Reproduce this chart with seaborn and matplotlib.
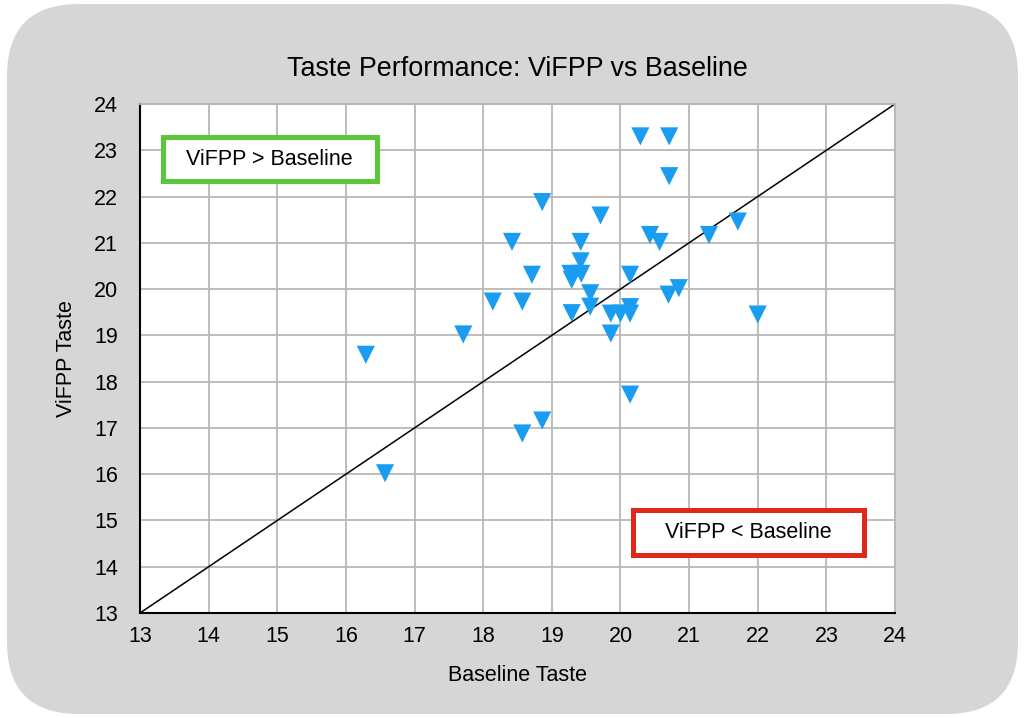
import matplotlib
matplotlib.use("Agg")
import matplotlib.pyplot as plt
from matplotlib.patches import FancyBboxPatch, Rectangle
import seaborn as sns
import pandas as pd

# ---- data ----
baseline = [20.29, 20.71, 20.71, 18.86, 19.71, 18.42, 19.42, 20.43, 20.57, 21.29,
            21.71, 19.42, 18.71, 19.27, 19.43, 19.29, 20.14, 18.14, 18.57, 19.56,
            19.56, 20.70, 20.85, 19.29, 19.86, 20.00, 20.14, 20.14, 22.00, 19.86,
            17.71, 16.29, 20.14, 18.86, 18.57, 16.57]
vifpp = [23.30, 23.30, 22.44, 21.88, 21.59, 21.02, 21.02, 21.17, 21.02, 21.17,
         21.46, 20.60, 20.31, 20.33, 20.33, 20.20, 20.31, 19.73, 19.73, 19.91,
         19.62, 19.88, 20.02, 19.48, 19.47, 19.47, 19.47, 19.61, 19.45, 19.04,
         19.02, 18.58, 17.72, 17.16, 16.88, 16.02]
axis_range = [13, 24]
ticks = list(range(13, 25))
title = "Taste Performance: ViFPP vs Baseline"
xlabel = "Baseline Taste"
ylabel = "ViFPP Taste"
label_above = "ViFPP > Baseline"
label_below = "ViFPP < Baseline"

df = pd.DataFrame({"Baseline": baseline, "ViFPP": vifpp})

sns.set_theme(style="white")
plt.rcParams["font.family"] = ["Liberation Sans", "DejaVu Sans"]

fig = plt.figure(figsize=(10.24, 7.18), dpi=100)
fig.patch.set_facecolor("white")

# rounded grey panel (in inches for circular corners)
panel = FancyBboxPatch((0.07, 0.04), 10.11, 7.10,
                       boxstyle="round,pad=0,rounding_size=0.72",
                       transform=fig.dpi_scale_trans,
                       facecolor="#d6d6d6", edgecolor="none", zorder=-10)
fig.patches.append(panel)

ax = fig.add_axes([140 / 1024, 1 - 613 / 718, (895 - 140) / 1024, (613 - 104) / 718])
ax.set_facecolor("white")

ax.set_xlim(axis_range)
ax.set_ylim(axis_range)
ax.set_xticks(ticks)
ax.set_yticks(ticks)
ax.grid(True, color="#b8b8b8", linewidth=1.3, zorder=0)
ax.set_axisbelow(True)

for side in ["top", "right"]:
    ax.spines[side].set_color("#b8b8b8")
    ax.spines[side].set_linewidth(1.3)
for side in ["left", "bottom"]:
    ax.spines[side].set_color("black")
    ax.spines[side].set_linewidth(1.5)

ax.plot(axis_range, axis_range, color="black", linewidth=1.1, zorder=2)

sns.scatterplot(data=df, x="Baseline", y="ViFPP", marker="v", s=170,
                color="#1a9cf0", edgecolor="none", linewidth=0, ax=ax, zorder=3)

ax.tick_params(axis="x", length=0, labelsize=15.5, colors="black", pad=9)
ax.tick_params(axis="y", length=0, labelsize=15.5, colors="black", pad=16)
ax.set_xlabel(xlabel, fontsize=15.5, labelpad=13, color="black")
ax.set_ylabel(ylabel, fontsize=15.5, labelpad=12, color="black")
ax.set_title(title, fontsize=19.4, pad=20, color="black")

# annotation boxes
ax.add_patch(Rectangle((13.33, 22.33), 3.12, 0.96, facecolor="white",
                       edgecolor="#58c83a", linewidth=3.6, zorder=4))
ax.text(14.89, 22.81, label_above, ha="center", va="center", fontsize=15.5,
        color="black", zorder=5)
ax.add_patch(Rectangle((20.18, 14.26), 3.37, 0.97, facecolor="white",
                       edgecolor="#e0281a", linewidth=3.6, zorder=4))
ax.text(21.865, 14.745, label_below, ha="center", va="center", fontsize=15.5,
        color="black", zorder=5)

fig.savefig("out.png", dpi=100, facecolor=fig.get_facecolor())
